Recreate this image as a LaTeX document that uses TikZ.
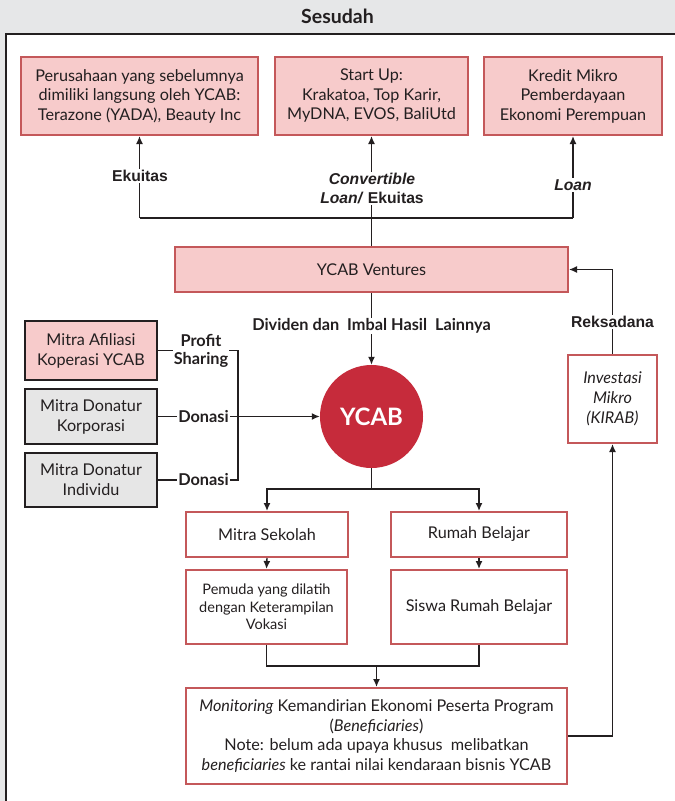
\documentclass[tikz,border=0pt]{standalone}
\usepackage{fontspec}
\setmainfont{Lato}
\newfontfamily\arialfont{Liberation Sans}
\usetikzlibrary{arrows.meta}
\definecolor{bandgray}{HTML}{E6E7E8}
\definecolor{pinkfill}{HTML}{F7CBCB}
\definecolor{redline}{HTML}{C4585A}
\definecolor{ycabred}{HTML}{C62B3B}
\definecolor{boxgray}{HTML}{E6E6E6}
\definecolor{ink}{HTML}{231F20}
\begin{document}
\begin{tikzpicture}[x=1pt,y=-1pt,
  txt/.style={font=\fontsize{16.2}{19.5}\selectfont, align=center, text=ink, inner sep=0pt},
  pinkbox/.style={txt, draw=redline, fill=pinkfill, line width=2pt},
  whitebox/.style={txt, draw=redline, fill=white, line width=2pt},
  blackpink/.style={txt, draw=ink, fill=pinkfill, line width=2.2pt},
  blackgray/.style={txt, draw=ink, fill=boxgray, line width=2.2pt},
  conn/.style={draw=ink, line width=1.4pt},
  arr/.style={conn, -{Latex[length=8pt,width=7pt]}},
  lab/.style={font=\arialfont\bfseries\fontsize{15.7}{19}\selectfont, fill=white, text=ink, align=center, inner sep=1.5pt},
  labl/.style={font=\bfseries\fontsize{16.3}{18.5}\selectfont, fill=white, text=ink, align=center, inner sep=1pt}
]
\useasboundingbox (0,0) rectangle (675,801);
\clip (0,0) rectangle (675,801);
% background
\fill[bandgray] (0,0) rectangle (675,801);
\filldraw[fill=white, draw=ink, line width=2.4pt] (6,34) rectangle (690,820);
\node[font=\bfseries\fontsize{19.5}{22}\selectfont, text=ink] (title) at (337.5,16) {Sesudah};

% top boxes
\node[pinkbox, minimum width=237pt, minimum height=78pt] (b1) at (139.5,96)
  {Perusahaan yang sebelumnya\\dimiliki langsung oleh YCAB:\\Terazone (YADA), Beauty Inc};
\node[pinkbox, minimum width=193pt, minimum height=78pt] (b2) at (371.5,96)
  {Start Up:\\Krakatoa, Top Karir,\\MyDNA, EVOS, BaliUtd};
\node[pinkbox, minimum width=178pt, minimum height=78pt] (b3) at (573,96)
  {Kredit Mikro\\Pemberdayaan\\Ekonomi Perempuan};

% ventures
\node[pinkbox, minimum width=393pt, minimum height=45pt] (vent) at (371.5,269.5) {YCAB Ventures};

% investasi
\node[whitebox, minimum width=89pt, minimum height=88pt, font=\fontsize{16.2}{20}\selectfont] (inv) at (612.5,399)
  {\itshape Investasi\\\itshape Mikro\\\itshape (KIRAB)};

% left partner boxes
\node[blackpink, minimum width=132pt, minimum height=59pt, font=\fontsize{16.2}{20}\selectfont] (afil) at (91,350.5)
  {Mitra Afiliasi\\Koperasi YCAB};
\node[blackgray, minimum width=132pt, minimum height=55pt, font=\fontsize{16.2}{20}\selectfont] (korp) at (91,416.5)
  {Mitra Donatur\\Korporasi};
\node[blackgray, minimum width=132pt, minimum height=54pt, font=\fontsize{16.2}{20}\selectfont] (indiv) at (91,480)
  {Mitra Donatur\\Individu};

% YCAB circle
\node[circle, fill=ycabred, minimum size=103pt, inner sep=0pt,
  font=\bfseries\fontsize{24}{26}\selectfont, text=white] (ycab) at (371.5,416.5) {YCAB};

% programme boxes
\node[whitebox, minimum width=162pt, minimum height=45pt] (sek) at (267,534.5) {Mitra Sekolah};
\node[whitebox, minimum width=176pt, minimum height=45pt] (rum) at (479,534.5) {Rumah Belajar};
\node[whitebox, minimum width=161pt, minimum height=74pt,
  font=\fontsize{14.5}{17.5}\selectfont] (pem) at (266.5,607)
  {Pemuda yang dilatih\\dengan Keterampilan\\Vokasi};
\node[whitebox, minimum width=176pt, minimum height=74pt] (sis) at (479,607) {Siswa Rumah Belajar};
\node[whitebox, minimum width=381pt, minimum height=96pt] (mon) at (376.5,736)
  {\textit{Monitoring} Kemandirian Ekonomi Peserta Program\\(\textit{Beneficiaries})\\Note: belum ada upaya khusus\ \ melibatkan\\\textit{beneficiaries} ke rantai nilai kendaraan bisnis YCAB};

% coordinates
\coordinate (j1) at (b1.south |- 0,218);
\coordinate (j3) at (b3.south |- 0,218);
\coordinate (br1) at (238,0 |- afil.east);
\coordinate (br3) at (238,0 |- indiv.east);
\coordinate (jb) at (ycab.south |- 0,489);
\coordinate (jm) at (0,666);

% top connectors
\draw[conn] (j1) -- (j3);
\draw[arr] (j1) -- (b1.south);
\draw[arr] (j3) -- (b3.south);
\draw[arr] (vent.north) -- (b2.south);
\node[lab] (le) at (140,176) {Ekuitas};
\node[lab] (lc) at (372,188.5) {\itshape Convertible\\\textit{Loan/} Ekuitas};
\node[lab] (ll) at (573,185) {\itshape Loan};

% ventures -> ycab
\draw[arr] (vent.south) -- (ycab.north);
\node[labl] (ld) at (371.5,326) {Dividen dan\ \ Imbal Hasil\ \ Lainnya};

% investasi -> ventures
\draw[arr] (inv.north) |- (vent.east);
\node[lab] (lr) at (612.5,322) {Reksadana};

% monitoring -> investasi
\draw[arr] (mon.east) -| (inv.south);

% partners
\draw[conn] (afil.east) -- (br1) -- (br3) -- (indiv.east);
\draw[arr] (korp.east) -- (ycab.west);
\node[labl] (lp) at (201,351) {Profit\\Sharing};
\node[labl] (ld1) at (203.5,417) {Donasi};
\node[labl] (ld2) at (203.5,480) {Donasi};

% ycab -> programmes
\draw[conn] (ycab.south) -- (jb);
\draw[arr] (jb) -| (sek.north);
\draw[arr] (jb) -| (rum.north);
\draw[arr] (sek.south) -- (pem.north);
\draw[arr] (rum.south) -- (sis.north);
\draw[conn] (pem.south) |- (jm -| sis.south) -- (sis.south);
\draw[arr] (mon.north |- jm) -- (mon.north);
\end{tikzpicture}
\end{document}
